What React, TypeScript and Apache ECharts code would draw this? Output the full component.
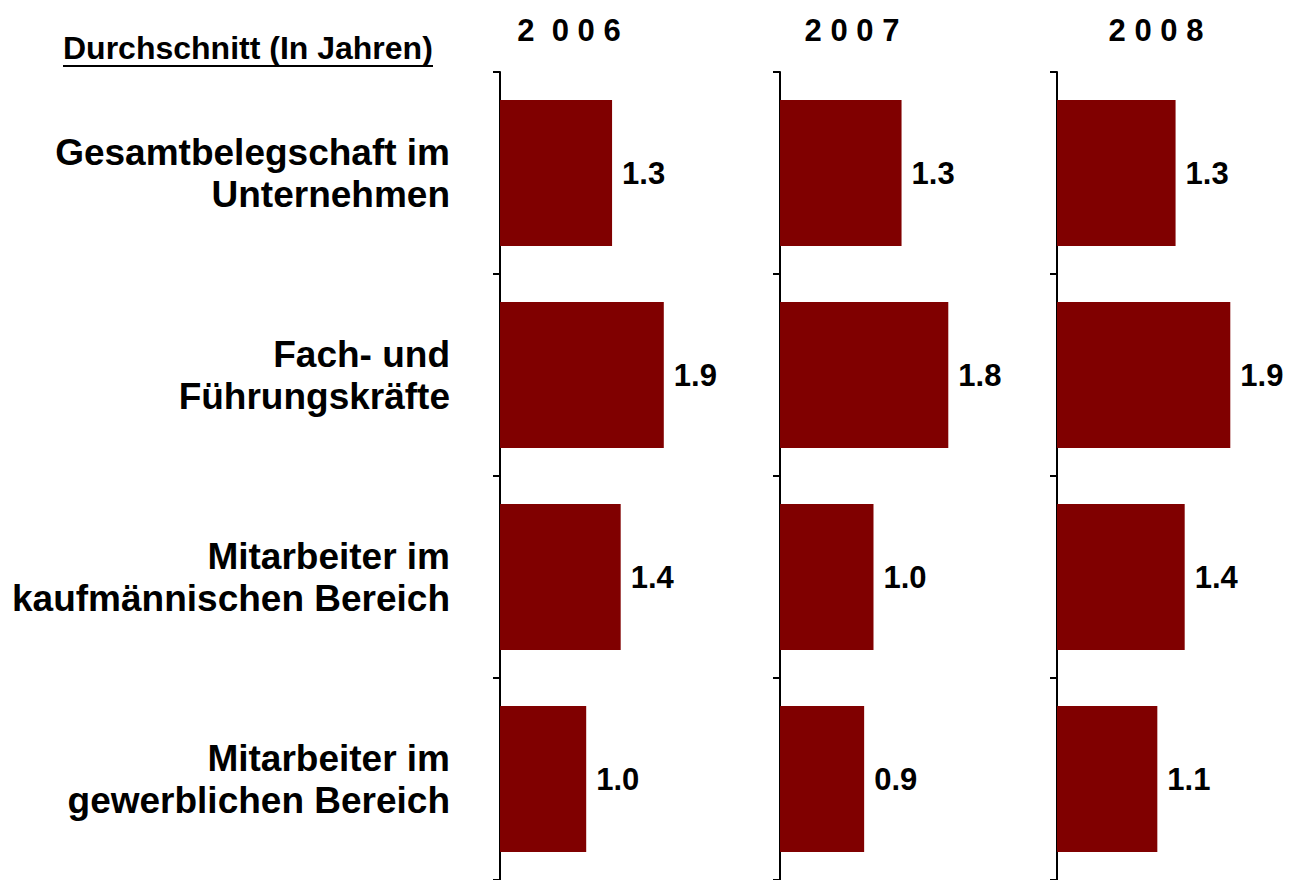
import React, { useEffect, useRef } from "react";
import * as echarts from "echarts";

const categories = [
  "Gesamtbelegschaft im\nUnternehmen",
  "Fach- und\nFührungskräfte",
  "Mitarbeiter im\nkaufmännischen Bereich",
  "Mitarbeiter im\ngewerblichen Bereich",
];
const years = ["2  0 0 6", "2 0 0 7", "2 0 0 8"];
const values2006 = [1.3, 1.9, 1.4, 1.0];
const values2007 = [1.3, 1.8, 1.0, 0.9];
const values2008 = [1.3, 1.9, 1.4, 1.1];
const subtitle = "Durchschnitt (In Jahren)";

const FONT = "'Liberation Sans', Arial, Helvetica, sans-serif";

export default function App() {
  const ref = useRef<HTMLDivElement>(null);
  useEffect(() => {
    if (!ref.current) return;
    const chart = echarts.init(ref.current, null, { renderer: "svg" });
    const series = [values2006, values2007, values2008];
    const lefts = [500, 780, 1057];
    const maxes = [2.552, 2.353, 2.412];
    const titleX = [564, 847, 1151];
    chart.setOption({
      animation: false,
      backgroundColor: "#ffffff",
      title: years.map((y, i) => ({
        text: y,
        left: titleX[i],
        top: 10,
        textAlign: "center",
        textStyle: { fontFamily: FONT, fontSize: 31, fontWeight: "bold", color: "#000" },
      })),
      graphic: [
        {
          type: "text",
          x: 63,
          y: 48,
          style: {
            text: subtitle,
            font: `bold 32px ${FONT}`,
            fill: "#000",
            verticalAlign: "middle",
          },
        },
        {
          type: "line",
          shape: { x1: 63, y1: 66, x2: 433, y2: 66 },
          style: { stroke: "#000", lineWidth: 2 },
        },
      ],
      grid: lefts.map((l) => ({ left: l, top: 72, width: 220, height: 808 })),
      xAxis: lefts.map((_, i) => ({
        type: "value",
        gridIndex: i,
        min: 0,
        max: maxes[i],
        show: false,
      })),
      yAxis: lefts.map((_, i) => ({
        type: "category",
        gridIndex: i,
        data: categories,
        inverse: true,
        axisLine: { show: true, lineStyle: { color: "#000", width: 2 } },
        axisTick: { show: true, length: 7, lineStyle: { color: "#000", width: 2 } },
        axisLabel: {
          show: i === 0,
          margin: 50,
          fontFamily: FONT,
          fontSize: 37,
          fontWeight: "bold",
          color: "#000",
          lineHeight: 42,
          align: "right",
        },
      })),
      series: series.map((d, i) => ({
        type: "bar",
        xAxisIndex: i,
        yAxisIndex: i,
        data: d,
        barWidth: 146,
        itemStyle: { color: "#800000" },
        label: {
          show: true,
          position: "right",
          distance: 10,
          formatter: (p: any) => Number(p.value).toFixed(1),
          fontFamily: FONT,
          fontSize: 31,
          fontWeight: "bold",
          color: "#000",
        },
      })),
    });
    return () => chart.dispose();
  }, []);
  return (
    <div
      ref={ref}
      style={{ position: "fixed", left: 0, top: 0, width: 1290, height: 880, background: "#fff" }}
    />
  );
}
